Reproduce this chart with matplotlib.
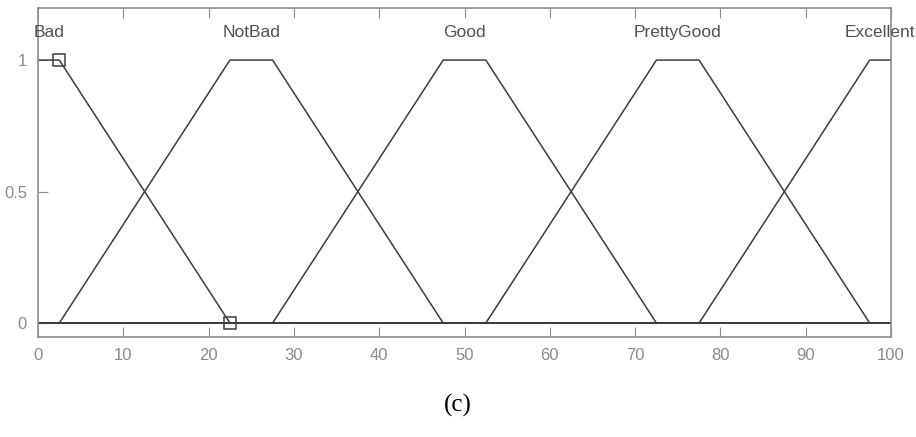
import numpy as np
import matplotlib
matplotlib.use("Agg")
import matplotlib.pyplot as plt

# trapezoid membership functions: [a, b, c, d]
mf_names = ["Bad", "NotBad", "Good", "PrettyGood", "Excellent"]
mf_params = [
    [0, 0, 2.5, 22.5],
    [2.5, 22.5, 27.5, 47.5],
    [27.5, 47.5, 52.5, 72.5],
    [52.5, 72.5, 77.5, 97.5],
    [77.5, 97.5, 100, 100],
]
x_range = [0, 100]
marker_x = [2.5, 22.5]
marker_y = [1, 0]
x_ticks = [0, 10, 20, 30, 40, 50, 60, 70, 80, 90, 100]
y_ticks = [0, 0.5, 1]
y_tick_labels = ["0", "0.5", "1"]
caption = "(c)"

line_col = "#3c3c3c"
axis_col = "#8c8c8c"
text_col = "#505050"

fig = plt.figure(figsize=(9.16, 4.37), dpi=100)
ax = fig.add_axes([38 / 916, 1 - 337 / 437, (891 - 38) / 916, (337 - 8) / 437])

for name, (a, b, c, d) in zip(mf_names, mf_params):
    xs = [x_range[0], a, b, c, d, x_range[1]]
    ys = [0, 0, 1, 1, 0, 0]
    if a == b:
        ys[0] = ys[1] = 1
    if c == d:
        ys[4] = ys[5] = 1
    ax.plot(xs, ys, color=line_col, lw=1.1)
    ax.text((b + c) / 2, 1.103, name, ha="center", va="center",
            fontsize=12.5, color=text_col, family="Liberation Sans")

ax.plot(marker_x, marker_y, ls="none", marker="s", ms=9, mfc="none",
        mec=line_col, mew=1.1)

ax.set_xlim(x_range)
ax.set_ylim(-0.053, 1.198)
ax.set_xticks(x_ticks)
ax.set_yticks(y_ticks)
ax.set_yticklabels(y_tick_labels)
ax.tick_params(direction="in", length=7, color=axis_col, labelcolor="#8a8a8a",
               labelsize=12, top=True, right=False, pad=8)
for lbl in ax.get_xticklabels() + ax.get_yticklabels():
    lbl.set_family("Liberation Sans")
for s in ax.spines.values():
    s.set_color(axis_col)
    s.set_linewidth(1.2)

fig.text(458 / 916, 1 - 405 / 437, caption, ha="center", va="center",
         fontsize=18, family="Liberation Serif", color="black")

fig.savefig("out.png", dpi=100)
